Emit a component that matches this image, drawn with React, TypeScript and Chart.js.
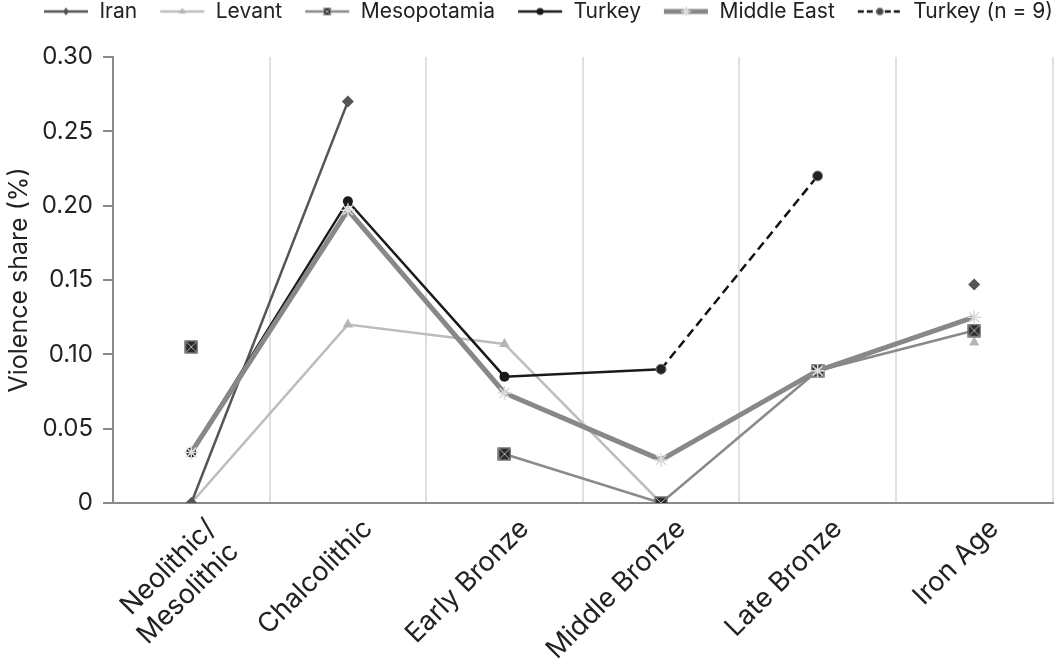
import React, { useEffect, useRef } from "react";
import { Chart, registerables } from "chart.js";

Chart.register(...registerables);

const categories: (string | string[])[] = [
  ["Neolithic/", "Mesolithic"],
  "Chalcolithic",
  "Early Bronze",
  "Middle Bronze",
  "Late Bronze",
  "Iron Age",
];

const iran = [0, 0.27, null, null, null, 0.147];
const levant = [0, 0.12, 0.107, 0, null, 0.108];
const mesopotamia = [0.105, null, 0.033, 0, 0.089, 0.116];
const turkey = [0.034, 0.203, 0.085, 0.09, null, null];
const middleEast = [0.034, 0.197, 0.074, 0.029, 0.089, 0.125];
const turkeyN9 = [null, null, null, 0.09, 0.22, null];

const yTicks = [0, 0.05, 0.1, 0.15, 0.2, 0.25, 0.3];

const FONT = "Inter, 'Liberation Sans', Arial, sans-serif";
const TEXT = "#222222";
const SHIFT = 21; // canvas moved up so the legend sits near the top edge
const LEGEND_EXTRA = 25;
const LEGEND_DX = 19;

function makeCanvas(w: number, h: number) {
  const c = document.createElement("canvas");
  c.width = w;
  c.height = h;
  return c;
}

function drawMesoMarker(ctx: CanvasRenderingContext2D, cx: number, cy: number, s: number) {
  ctx.save();
  ctx.fillStyle = "#2b2b2b";
  ctx.strokeStyle = "#9a9a9a";
  ctx.lineWidth = 1;
  ctx.fillRect(cx - s / 2, cy - s / 2, s, s);
  ctx.strokeRect(cx - s / 2 + 0.5, cy - s / 2 + 0.5, s - 1, s - 1);
  ctx.strokeStyle = "#b0b0b0";
  ctx.beginPath();
  ctx.moveTo(cx - s / 2 + 1.5, cy - s / 2 + 1.5);
  ctx.lineTo(cx + s / 2 - 1.5, cy + s / 2 - 1.5);
  ctx.moveTo(cx + s / 2 - 1.5, cy - s / 2 + 1.5);
  ctx.lineTo(cx - s / 2 + 1.5, cy + s / 2 - 1.5);
  ctx.stroke();
  ctx.restore();
}

function drawStar(ctx: CanvasRenderingContext2D, cx: number, cy: number, r: number, color: string) {
  ctx.save();
  ctx.strokeStyle = color;
  ctx.lineWidth = 1.5;
  ctx.beginPath();
  for (let k = 0; k < 4; k++) {
    const a = (k * Math.PI) / 4;
    ctx.moveTo(cx - Math.cos(a) * r, cy - Math.sin(a) * r);
    ctx.lineTo(cx + Math.cos(a) * r, cy + Math.sin(a) * r);
  }
  ctx.stroke();
  ctx.restore();
}

function mesoPoint() {
  const c = makeCanvas(14, 14);
  const ctx = c.getContext("2d")!;
  drawMesoMarker(ctx, 7, 7, 13);
  return c;
}

function legendIcon(kind: string) {
  const w = 46;
  const h = 14;
  const c = makeCanvas(w, h);
  const ctx = c.getContext("2d")!;
  const cy = h / 2;
  const cx = w / 2;
  ctx.lineCap = "butt";
  const line = (color: string, width: number, dash: number[] = []) => {
    ctx.save();
    ctx.strokeStyle = color;
    ctx.lineWidth = width;
    ctx.setLineDash(dash);
    ctx.beginPath();
    ctx.moveTo(1, cy);
    ctx.lineTo(w - 1, cy);
    ctx.stroke();
    ctx.restore();
  };
  if (kind === "iran") {
    line("#555555", 2.5);
    ctx.fillStyle = "#555555";
    ctx.beginPath();
    ctx.moveTo(cx, cy - 4);
    ctx.lineTo(cx + 3, cy);
    ctx.lineTo(cx, cy + 4);
    ctx.lineTo(cx - 3, cy);
    ctx.closePath();
    ctx.fill();
  } else if (kind === "levant") {
    line("#bdbdbd", 2.5);
    ctx.fillStyle = "#b5b5b5";
    ctx.beginPath();
    ctx.moveTo(cx, cy - 4);
    ctx.lineTo(cx + 3.5, cy + 2);
    ctx.lineTo(cx - 3.5, cy + 2);
    ctx.closePath();
    ctx.fill();
  } else if (kind === "meso") {
    line("#8a8a8a", 2.5);
    drawMesoMarker(ctx, cx, cy, 8);
  } else if (kind === "turkey") {
    line("#1a1a1a", 2.5);
    ctx.fillStyle = "#1a1a1a";
    ctx.beginPath();
    ctx.arc(cx, cy, 3.5, 0, Math.PI * 2);
    ctx.fill();
  } else if (kind === "me") {
    line("#888888", 5);
    drawStar(ctx, cx, cy, 5, "#dddddd");
  } else {
    line("#111111", 2.5, [6, 3]);
    ctx.fillStyle = "#444444";
    ctx.strokeStyle = "#888888";
    ctx.lineWidth = 1;
    ctx.beginPath();
    ctx.arc(cx, cy, 3.5, 0, Math.PI * 2);
    ctx.fill();
    ctx.stroke();
  }
  return c;
}

const legendKinds = ["iran", "levant", "meso", "turkey", "me", "turkey9"];

const legendSpacer = {
  id: "legendSpacer",
  afterInit(chart: any) {
    const lg = chart.legend;
    if (lg && !lg.__patched) {
      const origFit = lg.fit;
      lg.fit = function () {
        origFit.call(this);
        this.height += LEGEND_EXTRA;
      };
      const origDraw = lg.draw;
      lg.draw = function () {
        const ctx = this.ctx;
        ctx.save();
        ctx.translate(LEGEND_DX, 0);
        origDraw.call(this);
        ctx.restore();
      };
      lg.__patched = true;
    }
  },
};

export default function App() {
  const ref = useRef<HTMLCanvasElement | null>(null);

  useEffect(() => {
    if (!ref.current) return;
    const icons = legendKinds.map(legendIcon);
    const chart = new Chart(ref.current, {
      type: "line",
      plugins: [legendSpacer],
      data: {
        labels: categories,
        datasets: [
          {
            label: "Iran",
            data: iran,
            borderColor: "#555555",
            backgroundColor: "#555555",
            borderWidth: 2.5,
            pointStyle: "rectRot",
            pointRadius: 6,
            pointBorderWidth: 0,
            order: 3,
          },
          {
            label: "Levant",
            data: levant,
            borderColor: "#bdbdbd",
            backgroundColor: "#b5b5b5",
            borderWidth: 2.5,
            pointStyle: "triangle",
            pointRadius: 6,
            pointBorderWidth: 0,
            order: 5,
          },
          {
            label: "Mesopotamia",
            data: mesopotamia,
            borderColor: "#8a8a8a",
            backgroundColor: "#2b2b2b",
            borderWidth: 2.5,
            pointStyle: mesoPoint(),
            pointRadius: 7,
            order: 4,
          },
          {
            label: "Turkey",
            data: turkey,
            borderColor: "#1a1a1a",
            backgroundColor: "#1a1a1a",
            borderWidth: 2.5,
            pointStyle: "circle",
            pointRadius: 5,
            pointBorderWidth: 0,
            order: 2,
          },
          {
            label: "Middle East",
            data: middleEast,
            borderColor: "#888888",
            backgroundColor: "#d8d8d8",
            borderWidth: 5,
            pointStyle: "star",
            pointRadius: 7,
            pointBorderColor: "#dcdcdc",
            pointBorderWidth: 1.5,
            order: 0,
          },
          {
            label: "Turkey (n = 9)",
            data: turkeyN9,
            borderColor: "#111111",
            backgroundColor: "#222222",
            borderWidth: 2.5,
            borderDash: [9, 5],
            pointStyle: "circle",
            pointRadius: 5,
            pointBorderColor: "#888888",
            pointBorderWidth: 1,
            order: 1,
          },
        ],
      },
      options: {
        animation: false,
        responsive: true,
        maintainAspectRatio: false,
        spanGaps: false,
        layout: { padding: { top: 0, right: 4, left: 0, bottom: 0 } },
        plugins: {
          tooltip: { enabled: false },
          legend: {
            position: "top",
            align: "center",
            labels: {
              usePointStyle: true,
              pointStyleWidth: 46,
              padding: 22,
              color: TEXT,
              font: { family: FONT, size: 21 },
              generateLabels: (ch: any) =>
                ch.data.datasets.map((ds: any, i: number) => ({
                  text: ds.label,
                  pointStyle: icons[i],
                  fillStyle: "transparent",
                  strokeStyle: "transparent",
                  lineWidth: 0,
                  hidden: false,
                  datasetIndex: i,
                  fontColor: TEXT,
                })),
            },
          },
        },
        scales: {
          x: {
            offset: true,
            grid: {
              offset: true,
              drawTicks: false,
              color: (ctx: any) => (ctx.index === 0 ? "transparent" : "#e0e0e0"),
              lineWidth: 2,
            },
            border: { color: "#8a8a8a", width: 2 },
            ticks: {
              color: TEXT,
              font: { family: FONT, size: 27 },
              maxRotation: 45,
              minRotation: 45,
              padding: 10,
              labelOffset: 20,
              autoSkip: false,
            },
            afterFit: (scale: any) => {
              scale.height = 159;
            },
          },
          y: {
            min: 0,
            max: 0.3,
            afterBuildTicks: (scale: any) => {
              scale.ticks = yTicks.map((v) => ({ value: v }));
            },
            grid: {
              drawOnChartArea: false,
              drawTicks: true,
              tickLength: 10,
              color: "#8a8a8a",
              lineWidth: 2,
            },
            border: { color: "#8a8a8a", width: 2 },
            ticks: {
              color: TEXT,
              font: { family: FONT, size: 24 },
              padding: 10,
              callback: (v: any) => (Number(v) === 0 ? "0" : Number(v).toFixed(2)),
            },
            title: {
              display: true,
              text: "Violence share (%)",
              color: TEXT,
              font: { family: FONT, size: 25 },
              padding: { top: 4, bottom: 4 },
            },
            afterFit: (scale: any) => {
              scale.width = 113;
            },
          },
        },
      },
    });
    return () => chart.destroy();
  }, []);

  return (
    <div
      style={{
        position: "fixed",
        left: 0,
        top: 0,
        width: 1062,
        height: 662,
        overflow: "hidden",
        background: "#ffffff",
      }}
    >
      <div style={{ position: "absolute", left: 0, top: -SHIFT, width: 1062, height: 662 + SHIFT }}>
        <canvas ref={ref} />
      </div>
    </div>
  );
}
